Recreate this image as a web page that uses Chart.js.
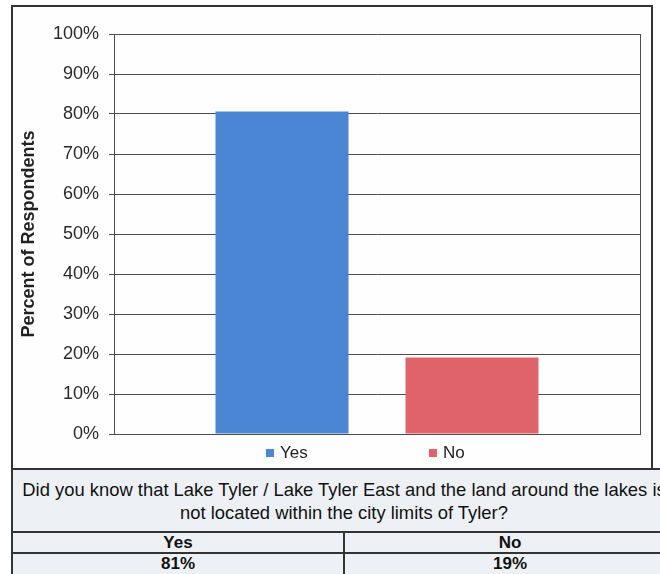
<!DOCTYPE html>
<html>
<head>
<meta charset="utf-8">
<script src="https://cdn.jsdelivr.net/npm/chart.js@4.4.0/dist/chart.umd.min.js"></script>
<style>
  body { margin: 0; background: #fff; font-family: Arial, "Liberation Sans", sans-serif; width: 660px; height: 574px; overflow: hidden; position: relative; }
  #frame { position: absolute; left: 11px; top: 5px; width: 642px; height: 466px; box-sizing: border-box; border: 2px solid #333; background: #fefefe; }
  #wrap { position: absolute; left: 13px; top: 7px; }
  #tbl { position: absolute; left: 11px; top: 468px; width: 666px; border-collapse: collapse; background: #edf1f5; color: #111; }
  #tbl td { border: 2px solid #333; text-align: center; padding: 0; }
  #tbl .q { height: 60px; font-size: 18.4px; line-height: 23px; white-space: nowrap; padding-top: 1px; }
  #tbl .h td { height: 18px; font-size: 17px; font-weight: bold; line-height: 18px; padding-top: 1px; }
  #tbl .v td { height: 30px; font-size: 17px; font-weight: bold; line-height: 19px; vertical-align: top; }
</style>
</head>
<body>
<div id="frame"></div>
<div id="wrap"><canvas id="myChart" width="638" height="462"></canvas></div>
<table id="tbl">
  <tr><td class="q" colspan="2" id="question"></td></tr>
  <tr class="h" id="headRow"></tr>
  <tr class="v" id="valRow"></tr>
</table>
<script>
// answers to the survey question
const answers = ['Yes', 'No'];
const percentYes = [80.6];
const percentNo = [19.1];
const tableValues = ['81%', '19%'];
const yTicks = [0, 10, 20, 30, 40, 50, 60, 70, 80, 90, 100];
const questionLines = [
  'Did you know that Lake Tyler / Lake Tyler East and the land around the lakes is',
  'not located within the city limits of Tyler?'
];

const q = document.getElementById('question');
questionLines.forEach((line, i) => {
  if (i > 0) q.appendChild(document.createElement('br'));
  q.appendChild(document.createTextNode(line));
});
const headRow = document.getElementById('headRow');
const valRow = document.getElementById('valRow');
for (let i = 0; i < answers.length; i++) {
  const th = document.createElement('td');
  th.innerText = answers[i];
  headRow.appendChild(th);
  const tv = document.createElement('td');
  tv.innerText = tableValues[i];
  valRow.appendChild(tv);
}

const gridColor = '#4d4d4d';

// small legend drawn under the plot like the excel one
const bottomLegend = {
  id: 'bottomLegend',
  afterDraw(chart) {
    const ctx = chart.ctx;
    const area = chart.chartArea;
    const cx = (area.left + area.right) / 2;
    const y = area.bottom + 15;
    ctx.save();
    ctx.font = '17px Arial, "Liberation Sans", sans-serif';
    ctx.textBaseline = 'middle';
    ctx.textAlign = 'left';
    chart.data.datasets.forEach((ds, i) => {
      const x = cx - 111 + i * 163;
      ctx.fillStyle = ds.backgroundColor;
      ctx.fillRect(x, y, 8, 8);
      ctx.fillStyle = '#222';
      ctx.fillText(ds.label, x + 14, y + 4);
    });
    ctx.restore();
  }
};

const ctx = document.getElementById('myChart').getContext('2d');
const myChart = new Chart(ctx, {
  type: 'bar',
  data: {
    labels: [''],
    datasets: [{
      label: answers[0],
      data: percentYes,
      backgroundColor: '#4a86d4',
      categoryPercentage: 0.7224,
      barPercentage: 0.7
    }, {
      label: answers[1],
      data: percentNo,
      backgroundColor: '#e0636c',
      categoryPercentage: 0.7224,
      barPercentage: 0.7
    }]
  },
  options: {
    responsive: false,
    animation: false,
    layout: { padding: { top: 27, right: 11, bottom: 35, left: 1 } },
    plugins: { legend: { display: false }, tooltip: { enabled: false } },
    scales: {
      x: {
        ticks: { display: false },
        grid: { display: true, offset: true, drawTicks: false, color: gridColor, lineWidth: 1 },
        border: { display: true, color: gridColor, width: 1 },
        afterFit: (s) => { s.height = 0; }
      },
      y: {
        min: 0,
        max: 100,
        afterBuildTicks: (s) => { s.ticks = yTicks.map(v => ({ value: v })); },
        afterFit: (s) => { s.width = 100; },
        ticks: {
          padding: 10,
          color: '#2a2a2a',
          font: { family: 'Arial, "Liberation Sans", sans-serif', size: 18 },
          callback: (v) => v + '%'
        },
        grid: { color: gridColor, lineWidth: 1, tickLength: 5 },
        border: { display: true, color: gridColor, width: 1 },
        title: {
          display: true,
          text: 'Percent of Respondents',
          color: '#222',
          padding: { top: 4, bottom: 0 },
          font: { family: 'Arial, "Liberation Sans", sans-serif', size: 18, weight: 'bold' }
        }
      }
    }
  },
  plugins: [bottomLegend]
});
</script>
</body>
</html>
